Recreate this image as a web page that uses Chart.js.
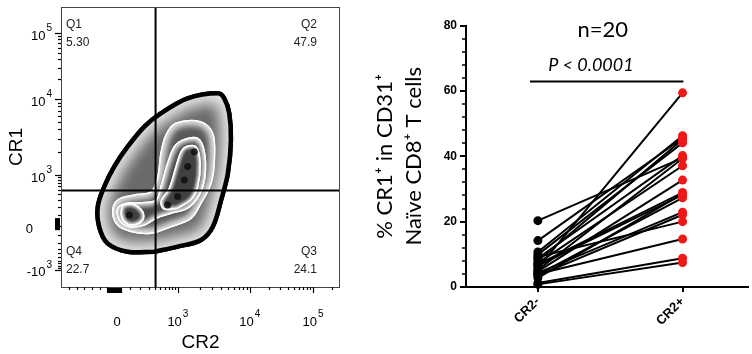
<!DOCTYPE html>
<html>
<head>
<meta charset="utf-8">
<script src="https://cdn.jsdelivr.net/npm/chart.js@4.4.1/dist/chart.umd.min.js"></script>
<style>
    html, body { margin: 0; padding: 0; background: #fff; }
    #wrap { position: relative; width: 752px; height: 354px; overflow: hidden; }
    #flowPlot { position: absolute; left: 0; top: 0; }
    #pairedPlot { position: absolute; left: 360px; top: 0; }
</style>
</head>
<body>
<div id="wrap">
    <canvas id="flowPlot" width="380" height="354"></canvas>
    <canvas id="pairedPlot" width="392" height="354"></canvas>
</div>
<script>
//------------ left panel data (channel units 0-1000, biexponential display) ----------//
const xMajor = [201, 419, 677, 903];
const xMajorLabels = [['0', ''], ['10', '3'], ['10', '4'], ['10', '5']];
const yMajor = [61, 218, 400, 671, 907];
const yMajorLabels = [['-10', '3'], ['0', ''], ['10', '3'], ['10', '4'], ['10', '5']];
const gateX = 339;
const gateY = 345;
const quadNames = ['Q1', 'Q2', 'Q3', 'Q4'];
const quadValues = ['5.30', '47.9', '24.1', '22.7'];

const outerContour = [[334, 126], [418, 144], [502, 168], [544, 215], [574, 311], [598, 406], [609, 525], [603, 620],
    [585, 674], [562, 692], [454, 674], [358, 620], [299, 573], [239, 501], [191, 430], [155, 358], [132, 287],
    [137, 215], [167, 156], [239, 126]];
const contour2 = [[394, 215], [466, 245], [502, 299], [538, 370], [550, 454], [544, 549], [502, 590], [412, 585],
    [376, 543], [358, 478], [347, 394], [323, 340], [263, 329], [203, 311], [185, 269], [203, 221], [251, 198], [323, 192]];
const contour3 = [[394, 263], [454, 281], [496, 329], [516, 394], [514, 483], [490, 531], [436, 525], [406, 501],
    [382, 442], [358, 358], [341, 311], [287, 301], [233, 299], [203, 281], [209, 239], [245, 215], [299, 221], [341, 245]];
const contour4a = [[418, 281], [466, 311], [490, 358], [499, 442], [484, 501], [448, 501], [430, 483], [412, 430],
    [388, 353], [358, 305], [370, 278]];
const contour4b = [[221, 293], [257, 296], [293, 269], [293, 239], [257, 221], [227, 233], [215, 263]];
const hotSpots = [[454, 430], [478, 483], [442, 382], [418, 323], [382, 293], [245, 257]];

//------------ right panel data ----------//
const groups = ['CR2-', 'CR2+'];
const cr2Neg = [20.3, 14.2, 10.7, 9.9, 8.8, 8.0, 7.3, 6.5, 5.8, 5.2, 4.8, 4.3, 3.8, 3.5, 6.9, 9.2, 4.0, 2.8, 1.2, 0.8];
const cr2Pos = [39.5, 45.5, 46.3, 44.1, 40.2, 45.1, 37.1, 28.2, 59.4, 39.3, 32.7, 22.9, 27.3, 22.1, 28.9, 20.0, 14.7, 28.5, 8.8, 7.5];
const yTicksRight = [0, 20, 40, 60, 80];
const sigBar = [{x: 0.945, y: 62.9}, {x: 2.006, y: 62.9}];
const sampleText = 'n=20';
const pText = 'P < 0.0001';

const toPts = arr => arr.map(p => ({x: p[0], y: p[1]}));
const closed = arr => toPts(arr.concat([arr[0]]));

function contourSet(arr, fillColor, border, width, shade, order) {
    return {
        data: closed(arr),
        showLine: true,
        fill: 'shape',
        backgroundColor: fillColor,
        borderColor: border,
        borderWidth: width,
        pointRadius: 0,
        tension: 0.35,
        shade: shade,
        order: order
    };
}

// zebra look: each contour band is light just inside its line and darkens inwards
const zebraShade = {
    id: 'zebraShade',
    afterDatasetDraw(chart, args) {
        const ds = chart.data.datasets[args.index];
        if (!ds.shade) return;
        const line = args.meta.dataset;
        const ctx = chart.ctx;
        ctx.save();
        ctx.beginPath();
        line.path(ctx);
        ctx.closePath();
        ctx.clip();
        ctx.filter = 'blur(' + (ds.shade / 3).toFixed(1) + 'px)';
        ctx.strokeStyle = 'rgba(255,255,255,0.85)';
        ctx.lineWidth = ds.shade;
        ctx.beginPath();
        line.path(ctx);
        ctx.closePath();
        ctx.stroke();
        ctx.restore();
        ctx.save();
        ctx.beginPath();
        line.path(ctx);
        ctx.closePath();
        ctx.lineJoin = 'round';
        ctx.lineWidth = ds.borderWidth;
        ctx.strokeStyle = ds.borderColor;
        ctx.stroke();
        ctx.restore();
    }
};

function minorTicks(zero, d3, dm3, decades, limit) {
    const out = [];
    const c = 200, k = Math.asinh(1000 / c);
    for (let v = 100; v < 1000; v += 100) {
        out.push(zero + (d3 - zero) * Math.asinh(v / c) / k);
        if (dm3 !== null) out.push(zero - (zero - dm3) * Math.asinh(v / c) / k);
    }
    for (let i = 0; i < decades.length - 1; i++) {
        for (let m = 2; m <= 9; m++) out.push(decades[i] + (decades[i + 1] - decades[i]) * Math.log10(m));
    }
    return out.filter(v => v > 0 && v < limit);
}

function powLabel(ctx, base, exp, px, py, align) {
    ctx.font = '13px "Liberation Sans", Arial, sans-serif';
    const wb = ctx.measureText(base).width;
    ctx.font = '10px "Liberation Sans", Arial, sans-serif';
    const we = exp ? ctx.measureText(exp).width + 1 : 0;
    const start = align === 'right' ? px - wb - we : px - (wb + we) / 2;
    ctx.textAlign = 'left';
    ctx.textBaseline = 'middle';
    ctx.font = '13px "Liberation Sans", Arial, sans-serif';
    ctx.fillText(base, start, py);
    if (exp) {
        ctx.font = '10px "Liberation Sans", Arial, sans-serif';
        ctx.fillText(exp, start + wb + 1, py - 8);
    }
}

const flowAxes = {
    id: 'flowAxes',
    afterDraw(chart) {
        const {ctx, chartArea: a, scales: {x, y}} = chart;
        ctx.save();
        ctx.strokeStyle = '#444';
        ctx.lineWidth = 1;
        ctx.strokeRect(a.left + 0.5, a.top + 0.5, a.right - a.left - 1, a.bottom - a.top);

        ctx.strokeStyle = '#000';
        ctx.lineWidth = 1.2;
        const tick = (x1, y1, x2, y2) => { ctx.beginPath(); ctx.moveTo(x1, y1); ctx.lineTo(x2, y2); ctx.stroke(); };
        xMajor.slice(1).forEach(v => { const p = Math.round(x.getPixelForValue(v)) + 0.5; tick(p, a.bottom, p, a.bottom + 6); });
        minorTicks(xMajor[0], xMajor[1], null, [419, 677, 903, 1129], 1000).forEach(v => {
            const p = Math.round(x.getPixelForValue(v)) + 0.5; tick(p, a.bottom, p, a.bottom + 3);
        });
        for (let v = 30; v < 190; v += 27) { const p = Math.round(x.getPixelForValue(v)) + 0.5; tick(p, a.bottom, p, a.bottom + 3); }
        yMajor.forEach(v => { const p = Math.round(y.getPixelForValue(v)) + 0.5; tick(a.left - 6, p, a.left, p); });
        minorTicks(yMajor[1], yMajor[2], yMajor[0], [400, 671, 907], 1000).forEach(v => {
            const p = Math.round(y.getPixelForValue(v)) + 0.5; tick(a.left - 3, p, a.left, p);
        });

        // piled-up events on the axes
        ctx.fillStyle = '#000';
        const x1 = x.getPixelForValue(165), x2 = x.getPixelForValue(219);
        ctx.fillRect(x1, a.bottom + 1, x2 - x1, 5);
        const y1 = y.getPixelForValue(246), y2 = y.getPixelForValue(203);
        ctx.fillRect(a.left - 6, y1, 5, y2 - y1);

        ctx.fillStyle = '#000';
        xMajor.forEach((v, i) => powLabel(ctx, xMajorLabels[i][0], xMajorLabels[i][1], x.getPixelForValue(v), a.bottom + 35, 'center'));
        yMajor.forEach((v, i) => {
            const lab = yMajorLabels[i];
            powLabel(ctx, lab[0], lab[1], lab[1] ? a.left - 9 : a.left - 28, y.getPixelForValue(v) + 3, 'right');
        });

        ctx.fillStyle = '#222';
        ctx.font = '12px "Liberation Sans", Arial, sans-serif';
        ctx.textBaseline = 'middle';
        ctx.textAlign = 'left';
        ctx.fillText(quadNames[0], a.left + 5, a.top + 18);
        ctx.fillText(quadValues[0], a.left + 5, a.top + 36);
        ctx.fillText(quadNames[3], a.left + 5, a.bottom - 35);
        ctx.fillText(quadValues[3], a.left + 5, a.bottom - 17);
        ctx.textAlign = 'right';
        ctx.fillText(quadNames[1], a.right - 23, a.top + 18);
        ctx.fillText(quadValues[1], a.right - 23, a.top + 36);
        ctx.fillText(quadNames[2], a.right - 23, a.bottom - 35);
        ctx.fillText(quadValues[2], a.right - 23, a.bottom - 17);
        ctx.restore();
    }
};

const flowPlot = document.getElementById('flowPlot');
new Chart(flowPlot, {
    type: 'scatter',
    data: {
        datasets: [
            contourSet(outerContour, '#6a6a6a', '#000', 4.5, 20, 10),
            contourSet(contour2, '#5a5a5a', '#fff', 1.3, 10, 9),
            contourSet(contour3, '#4c4c4c', '#fff', 1.3, 7, 8),
            contourSet(contour4a, '#404040', '#fff', 1.3, 5, 7),
            contourSet(contour4b, '#404040', '#fff', 1.3, 5, 7),
            {
                data: toPts(hotSpots),
                pointRadius: 3.5,
                pointBackgroundColor: 'rgba(10,10,10,0.8)',
                pointBorderWidth: 0,
                order: 6
            },
            {
                data: [{x: gateX, y: 0}, {x: gateX, y: 1000}],
                showLine: true, borderColor: '#000', borderWidth: 2, pointRadius: 0, order: 1
            },
            {
                data: [{x: 0, y: gateY}, {x: 1000, y: gateY}],
                showLine: true, borderColor: '#000', borderWidth: 2, pointRadius: 0, order: 1
            }
        ]
    },
    options: {
        responsive: false,
        animation: false,
        layout: {padding: {top: 7, right: 40, left: 0, bottom: 0}},
        plugins: {
            legend: false,
            tooltip: {enabled: false}
        },
        scales: {
            x: {
                min: 0, max: 1000,
                grid: {display: false},
                border: {display: false},
                ticks: {display: false},
                title: {
                    display: true, text: 'CR2', color: '#000',
                    font: {family: '"Liberation Sans", Arial, sans-serif', size: 19},
                    padding: {top: 0, bottom: 0}
                },
                afterFit: s => { s.height = 67; }
            },
            y: {
                min: 0, max: 1000,
                grid: {display: false},
                border: {display: false},
                ticks: {display: false},
                title: {
                    display: true, text: 'CR1', color: '#000',
                    font: {family: '"Liberation Sans", Arial, sans-serif', size: 19},
                    padding: {top: 5, bottom: 0}
                },
                afterFit: s => { s.width = 61; }
            }
        }
    },
    plugins: [zebraShade, flowAxes]
});

//------------ right panel: paired dot plot ----------//
const pairedExtras = {
    id: 'pairedExtras',
    afterDraw(chart) {
        const {ctx, chartArea: a, scales: {x, y}} = chart;
        ctx.save();
        ctx.strokeStyle = '#000';
        ctx.lineWidth = 1.5;
        for (let v = 4; v < 80; v += 4) {
            if (v % 20 === 0) continue;
            const p = Math.round(y.getPixelForValue(v));
            ctx.beginPath();
            ctx.moveTo(a.left - 4, p);
            ctx.lineTo(a.left, p);
            ctx.stroke();
        }
        ctx.fillStyle = '#000';
        ctx.textAlign = 'center';
        ctx.textBaseline = 'middle';
        ctx.font = '22px Lato, "Open Sans", sans-serif';
        ctx.fillText(sampleText, x.getPixelForValue(1.449), y.getPixelForValue(78.6));
        ctx.font = 'italic 18px Lato, "Open Sans", sans-serif';
        ctx.fillText(pText, x.getPixelForValue(1.367), y.getPixelForValue(67.8));
        ctx.restore();
    }
};

const pairLines = cr2Neg.map((v, i) => ({
    type: 'line',
    data: [{x: 1, y: v}, {x: 2, y: cr2Pos[i]}],
    borderColor: '#000',
    borderWidth: 2,
    pointRadius: 0,
    clip: false,
    order: 3
}));

const pairedPlot = document.getElementById('pairedPlot');
new Chart(pairedPlot, {
    type: 'scatter',
    data: {
        datasets: pairLines.concat([
            {
                type: 'line',
                data: sigBar,
                borderColor: '#000',
                borderWidth: 2,
                pointRadius: 0,
                order: 2
            },
            {
                data: cr2Neg.map(v => ({x: 1, y: v})),
                pointRadius: 4.5,
                pointBackgroundColor: '#000',
                pointBorderWidth: 0,
                clip: false,
                order: 1
            },
            {
                data: cr2Pos.map(v => ({x: 2, y: v})),
                pointRadius: 4.5,
                pointBackgroundColor: '#ee1818',
                pointBorderWidth: 0,
                clip: false,
                order: 0
            }
        ])
    },
    options: {
        responsive: false,
        animation: false,
        layout: {padding: {top: 25.5, right: 0, left: 0, bottom: 0}},
        plugins: {
            legend: false,
            tooltip: {enabled: false}
        },
        scales: {
            x: {
                type: 'linear',
                min: 0.503, max: 2.449,
                afterBuildTicks: s => { s.ticks = [{value: 1}, {value: 2}]; },
                ticks: {
                    autoSkip: false,
                    minRotation: 45, maxRotation: 45,
                    padding: 2,
                    color: '#000',
                    font: {family: '"Liberation Sans", Arial, sans-serif', size: 13, weight: 'bold'},
                    callback: v => groups[v - 1]
                },
                grid: {drawOnChartArea: false, tickLength: 5, color: '#000', lineWidth: 2},
                border: {color: '#000', width: 2},
                afterFit: s => { s.height = 67; }
            },
            y: {
                min: 0, max: 80,
                afterBuildTicks: s => { s.ticks = yTicksRight.map(v => ({value: v})); },
                ticks: {
                    padding: 3,
                    color: '#000',
                    font: {family: '"Liberation Sans", Arial, sans-serif', size: 12, weight: 'bold'}
                },
                grid: {drawOnChartArea: false, tickLength: 6, color: '#000', lineWidth: 2},
                border: {color: '#000', width: 2},
                title: {
                    display: true,
                    text: ['% CR1\u207A in CD31\u207A', 'Na\u00EFve CD8\u207A T cells'],
                    color: '#000',
                    font: {family: 'Lato, "Open Sans", sans-serif', size: 22, lineHeight: 1.32},
                    padding: {top: 10, bottom: 0}
                },
                afterFit: s => { s.width = 106; }
            }
        }
    },
    plugins: [pairedExtras]
});
</script>
</body>
</html>
